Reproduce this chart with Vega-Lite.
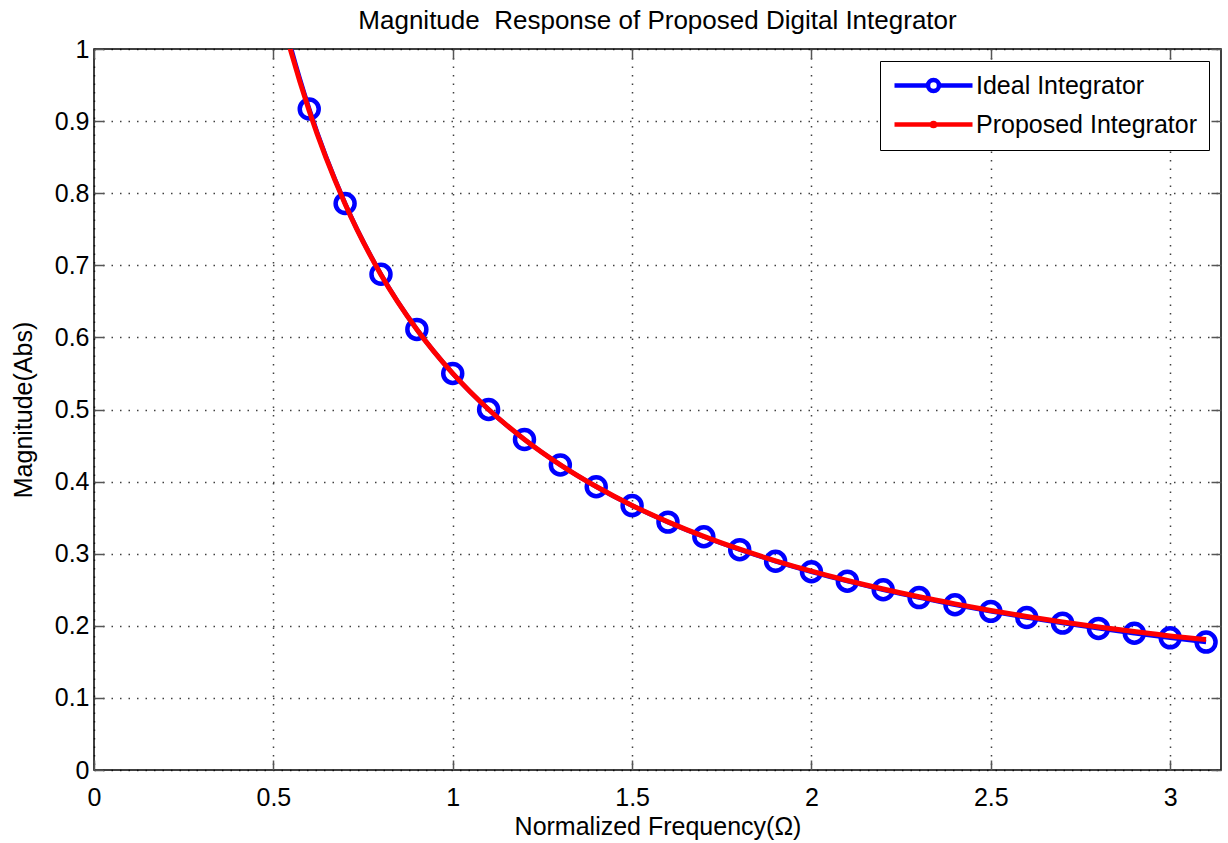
{
  "$schema": "https://vega.github.io/schema/vega-lite/v6.json",
  "autosize": "none",
  "width": 1127,
  "height": 721,
  "padding": {"left": 94, "top": 49, "right": 7, "bottom": 73},
  "background": "white",
  "config": {
    "view": {"stroke": "#000", "strokeWidth": 1.5},
    "font": "Liberation Sans",
    "axis": {"labelFont": "Liberation Sans", "titleFont": "Liberation Sans", "labelColor": "#000", "titleColor": "#000", "titleFontWeight": "normal", "domain": false, "tickColor": "#555", "tickWidth": 1.5}
  },
  "title": {"text": "Magnitude \u00a0Response of Proposed Digital Integrator", "fontSize": 26, "fontWeight": "normal", "font": "Liberation Sans", "color": "#000", "offset": 3, "anchor": "middle"},
  "datasets": {
    "lines": [
      {"w": 0.5, "mag": 1.1, "series": "Ideal Integrator"},
      {"w": 0.55, "mag": 1.0, "series": "Ideal Integrator"},
      {"w": 0.6, "mag": 0.9167, "series": "Ideal Integrator"},
      {"w": 0.7, "mag": 0.7857, "series": "Ideal Integrator"},
      {"w": 0.8, "mag": 0.6875, "series": "Ideal Integrator"},
      {"w": 0.9, "mag": 0.6111, "series": "Ideal Integrator"},
      {"w": 1.0, "mag": 0.55, "series": "Ideal Integrator"},
      {"w": 1.1, "mag": 0.5, "series": "Ideal Integrator"},
      {"w": 1.2, "mag": 0.4583, "series": "Ideal Integrator"},
      {"w": 1.3, "mag": 0.4231, "series": "Ideal Integrator"},
      {"w": 1.4, "mag": 0.3929, "series": "Ideal Integrator"},
      {"w": 1.5, "mag": 0.3667, "series": "Ideal Integrator"},
      {"w": 1.6, "mag": 0.3438, "series": "Ideal Integrator"},
      {"w": 1.7, "mag": 0.3235, "series": "Ideal Integrator"},
      {"w": 1.8, "mag": 0.3056, "series": "Ideal Integrator"},
      {"w": 1.9, "mag": 0.2895, "series": "Ideal Integrator"},
      {"w": 2.0, "mag": 0.275, "series": "Ideal Integrator"},
      {"w": 2.1, "mag": 0.2619, "series": "Ideal Integrator"},
      {"w": 2.2, "mag": 0.25, "series": "Ideal Integrator"},
      {"w": 2.3, "mag": 0.2391, "series": "Ideal Integrator"},
      {"w": 2.4, "mag": 0.2292, "series": "Ideal Integrator"},
      {"w": 2.5, "mag": 0.22, "series": "Ideal Integrator"},
      {"w": 2.6, "mag": 0.2115, "series": "Ideal Integrator"},
      {"w": 2.7, "mag": 0.2037, "series": "Ideal Integrator"},
      {"w": 2.8, "mag": 0.1964, "series": "Ideal Integrator"},
      {"w": 2.9, "mag": 0.1897, "series": "Ideal Integrator"},
      {"w": 3.0, "mag": 0.1833, "series": "Ideal Integrator"},
      {"w": 3.1, "mag": 0.1774, "series": "Ideal Integrator"},
      {"w": 0.5, "mag": 1.09, "series": "Proposed Integrator"},
      {"w": 0.55, "mag": 0.995, "series": "Proposed Integrator"},
      {"w": 0.6, "mag": 0.914, "series": "Proposed Integrator"},
      {"w": 0.7, "mag": 0.785, "series": "Proposed Integrator"},
      {"w": 0.8, "mag": 0.687, "series": "Proposed Integrator"},
      {"w": 0.9, "mag": 0.611, "series": "Proposed Integrator"},
      {"w": 1.0, "mag": 0.55, "series": "Proposed Integrator"},
      {"w": 1.1, "mag": 0.5, "series": "Proposed Integrator"},
      {"w": 1.2, "mag": 0.4585, "series": "Proposed Integrator"},
      {"w": 1.3, "mag": 0.4233, "series": "Proposed Integrator"},
      {"w": 1.4, "mag": 0.3932, "series": "Proposed Integrator"},
      {"w": 1.5, "mag": 0.367, "series": "Proposed Integrator"},
      {"w": 1.6, "mag": 0.3442, "series": "Proposed Integrator"},
      {"w": 1.7, "mag": 0.324, "series": "Proposed Integrator"},
      {"w": 1.8, "mag": 0.3062, "series": "Proposed Integrator"},
      {"w": 1.9, "mag": 0.2902, "series": "Proposed Integrator"},
      {"w": 2.0, "mag": 0.2758, "series": "Proposed Integrator"},
      {"w": 2.1, "mag": 0.2628, "series": "Proposed Integrator"},
      {"w": 2.2, "mag": 0.251, "series": "Proposed Integrator"},
      {"w": 2.3, "mag": 0.2402, "series": "Proposed Integrator"},
      {"w": 2.4, "mag": 0.2304, "series": "Proposed Integrator"},
      {"w": 2.5, "mag": 0.2213, "series": "Proposed Integrator"},
      {"w": 2.6, "mag": 0.213, "series": "Proposed Integrator"},
      {"w": 2.7, "mag": 0.2054, "series": "Proposed Integrator"},
      {"w": 2.8, "mag": 0.1984, "series": "Proposed Integrator"},
      {"w": 2.9, "mag": 0.192, "series": "Proposed Integrator"},
      {"w": 3.0, "mag": 0.186, "series": "Proposed Integrator"},
      {"w": 3.1, "mag": 0.181, "series": "Proposed Integrator"}
    ],
    "markers": [
      {"w": 0.6, "mag": 0.9167}, {"w": 0.7, "mag": 0.7857}, {"w": 0.8, "mag": 0.6875}, {"w": 0.9, "mag": 0.6111},
      {"w": 1.0, "mag": 0.55}, {"w": 1.1, "mag": 0.5}, {"w": 1.2, "mag": 0.4583}, {"w": 1.3, "mag": 0.4231},
      {"w": 1.4, "mag": 0.3929}, {"w": 1.5, "mag": 0.3667}, {"w": 1.6, "mag": 0.3438}, {"w": 1.7, "mag": 0.3235},
      {"w": 1.8, "mag": 0.3056}, {"w": 1.9, "mag": 0.2895}, {"w": 2.0, "mag": 0.275}, {"w": 2.1, "mag": 0.2619},
      {"w": 2.2, "mag": 0.25}, {"w": 2.3, "mag": 0.2391}, {"w": 2.4, "mag": 0.2292}, {"w": 2.5, "mag": 0.22},
      {"w": 2.6, "mag": 0.2115}, {"w": 2.7, "mag": 0.2037}, {"w": 2.8, "mag": 0.1964}, {"w": 2.9, "mag": 0.1897},
      {"w": 3.0, "mag": 0.1833}, {"w": 3.1, "mag": 0.1774}
    ]
  },
  "layer": [
    {
      "data": {"name": "lines"},
      "transform": [{"filter": "datum.series === 'Ideal Integrator'"}],
      "mark": {"type": "line", "strokeWidth": 4.5, "clip": true, "interpolate": "monotone"},
      "encoding": {
        "x": {"field": "w", "type": "quantitative", "scale": {"domain": [0, 3.1416], "nice": false, "zero": false},
              "axis": {"orient": "bottom", "values": [0, 0.5, 1, 1.5, 2, 2.5, 3], "format": "~g", "title": "Normalized Frequency(Ω)", "titleFontSize": 25, "labelFontSize": 25, "tickSize": -10, "labelPadding": 25, "titlePadding": 4, "grid": true, "gridDash": [1.5, 7], "gridColor": "#000", "gridOpacity": 0.75, "gridWidth": 1.5, "labelFlush": false}},
        "y": {"field": "mag", "type": "quantitative", "scale": {"domain": [0, 1], "nice": false},
              "axis": {"orient": "left", "values": [0, 0.1, 0.2, 0.3, 0.4, 0.5, 0.6, 0.7, 0.8, 0.9, 1], "format": "~g", "title": "Magnitude(Abs)", "titleFontSize": 25, "labelFontSize": 25, "tickSize": -10, "labelPadding": 15, "titlePadding": 18, "grid": true, "gridDash": [1.5, 7], "gridColor": "#000", "gridOpacity": 0.75, "gridWidth": 1.5, "labelFlush": false}},
        "color": {"field": "series", "type": "nominal",
                  "scale": {"domain": ["Ideal Integrator", "Proposed Integrator"], "range": ["#0000ff", "#ff0000"]},
                  "legend": {"title": null, "orient": "top-right", "offset": 12, "strokeColor": "#000", "fillColor": "#fff", "padding": 12, "labelFontSize": 25, "labelFont": "Liberation Sans", "labelColor": "#000", "labelLimit": 0, "symbolSize": 400, "symbolOffset": 29, "symbolStrokeWidth": 4.5, "labelOffset": 30, "rowPadding": 12,
                             "encode": {"symbols": {"update": {"shape": {"signal": "datum.value === 'Ideal Integrator' ? 'M-3.9,0H-0.55M0.55,0H3.9M-0.55,0A0.55,0.55 0 1,0 0.55,0A0.55,0.55 0 1,0 -0.55,0' : 'M-3.9,0H3.9M-0.16,0A0.16,0.16 0 1,0 0.16,0A0.16,0.16 0 1,0 -0.16,0'"}, "fill": {"value": "transparent"}, "strokeWidth": {"value": 4.5}}}}}}
      }
    },
    {
      "data": {"name": "markers"},
      "mark": {"type": "point", "shape": "circle", "filled": false, "color": "#0000ff", "strokeWidth": 4.5, "size": 360, "opacity": 1},
      "encoding": {
        "x": {"field": "w", "type": "quantitative", "axis": {"orient": "top", "values": [0, 0.5, 1, 1.5, 2, 2.5, 3], "labels": false, "title": null, "tickSize": -10, "grid": false}},
        "y": {"field": "mag", "type": "quantitative", "axis": {"orient": "right", "values": [0, 0.1, 0.2, 0.3, 0.4, 0.5, 0.6, 0.7, 0.8, 0.9, 1], "labels": false, "title": null, "tickSize": -10, "grid": false}}
      }
    },
    {
      "data": {"name": "lines"},
      "transform": [{"filter": "datum.series === 'Proposed Integrator'"}],
      "mark": {"type": "line", "strokeWidth": 5, "clip": true, "interpolate": "monotone"},
      "encoding": {
        "x": {"field": "w", "type": "quantitative", "axis": null},
        "y": {"field": "mag", "type": "quantitative", "axis": null},
        "color": {"field": "series", "type": "nominal"}
      }
    }
  ],
  "resolve": {"axis": {"x": "independent", "y": "independent"}}
}
